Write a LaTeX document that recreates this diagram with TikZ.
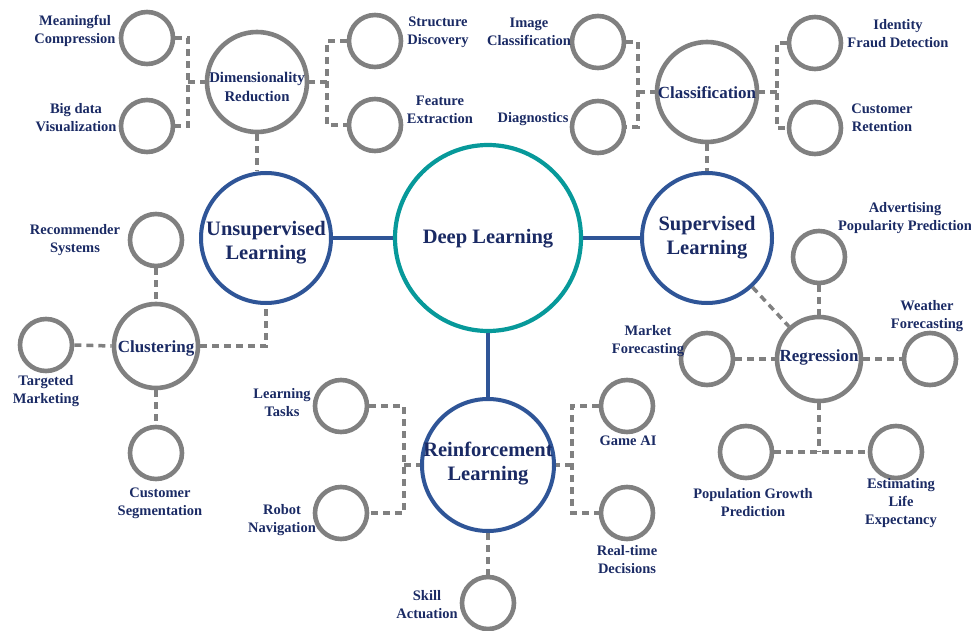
\documentclass[tikz,border=0pt]{standalone}
\usepackage{fontspec}
\setmainfont{Liberation Serif}
\definecolor{tnavy}{HTML}{1A2A64}
\definecolor{cgray}{HTML}{808080}
\definecolor{cblue}{HTML}{2F5597}
\definecolor{cteal}{HTML}{07999A}
\tikzset{
  circ/.style={circle,inner sep=0pt,fill=white},
  leaf/.style={circ,draw=cgray,line width=4.6pt,minimum size=52pt},
  midc/.style={circ,draw=cgray,line width=4.6pt},
  mainc/.style={circ,draw=cblue,line width=4pt,minimum size=128pt},
  rootc/.style={circ,draw=cteal,line width=4.2pt,minimum size=186pt},
  lbl/.style={inner sep=0pt,align=center,text=tnavy,font=\bfseries\fontsize{14.5}{18}\selectfont},
  midlbl/.style={lbl,font=\bfseries\fontsize{17}{19}\selectfont},
  biglbl/.style={lbl,font=\bfseries\fontsize{20.5}{24}\selectfont},
  dl/.style={draw=cgray,line width=3.5pt,dash pattern=on 7pt off 5pt},
  sl/.style={draw=cblue,line width=4pt},
}
\begin{document}
\begin{tikzpicture}[x=1pt,y=-1pt]
\useasboundingbox (0,0) rectangle (971,631);
\coordinate (bDRl) at (188,82);
\coordinate (bDRr) at (327,82);
\coordinate (bCLl) at (638,92);
\coordinate (bCLr) at (777,92);
\coordinate (bRLl) at (404,465);
\coordinate (bRLr) at (572,465);
\coordinate (bREG) at (819,452);
% ---------- circles
\node[rootc] (dl) at (488,238) {};
\node[mainc,minimum size=130pt] (ul) at (266,238) {};
\node[mainc,minimum size=130pt] (sl) at (707,238) {};
\node[mainc,minimum size=132pt] (rl) at (488,465) {};
\node[midc,minimum size=100pt] (dr) at (257,82) {};
\node[midc,minimum size=100pt] (cls) at (707,92) {};
\node[midc,minimum size=84pt] (clu) at (156,346) {};
\node[midc,minimum size=84pt] (reg) at (819,359) {};
% leaves
\node[leaf] (mc) at (147,38) {};
\node[leaf] (bdv) at (147,126) {};
\node[leaf] (sd) at (375,41) {};
\node[leaf] (fe) at (375,125) {};
\node[leaf] (ic) at (598,42) {};
\node[leaf] (dg) at (598,127) {};
\node[leaf] (ifd) at (815,43) {};
\node[leaf] (cr) at (815,128) {};
\node[leaf] (rs) at (156,240) {};
\node[leaf] (tm) at (46,345) {};
\node[leaf] (cs) at (156,453) {};
\node[leaf] (adv) at (819,257) {};
\node[leaf] (mf) at (707,359) {};
\node[leaf] (wf) at (930,359) {};
\node[leaf] (pgp) at (746,452) {};
\node[leaf] (ele) at (896,452) {};
\node[leaf] (lt) at (341,406) {};
\node[leaf] (rn) at (341,513) {};
\node[leaf] (gai) at (627,406) {};
\node[leaf] (rtd) at (627,513) {};
\node[leaf] (sa) at (488,603) {};
% ---------- solid connectors
\draw[sl] (ul.east) -- (dl.west);
\draw[sl] (dl.east) -- (sl.west);
\draw[sl] (dl.south) -- (rl.north);
% ---------- dashed connectors
\draw[dl] (mc.east) -| (bDRl) |- (bdv.east);
\draw[dl] (bDRl) -- (dr.west);
\draw[dl] (sd.west) -| (bDRr) |- (fe.west);
\draw[dl] (bDRr) -- (dr.east);
\draw[dl] (dr.south) -- (dr.south |- ul.north);
\draw[dl] (ic.east) -| (bCLl) |- (dg.east);
\draw[dl] (bCLl) -- (cls.west);
\draw[dl] (ifd.west) -| (bCLr) |- (cr.west);
\draw[dl] (bCLr) -- (cls.east);
\draw[dl] (cls.south) -- (sl.north);
\draw[dl] (rs.south) -- (clu.north);
\draw[dl] (tm.east) -- (clu.west);
\draw[dl] (clu.south) -- (cs.north);
\draw[dl] (clu.east) -| (ul.south);
\draw[dl] (sl) -- (reg);
\draw[dl] (adv.south) -- (reg.north);
\draw[dl] (mf.east) -- (reg.west);
\draw[dl] (reg.east) -- (wf.west);
\draw[dl] (reg.south) -- (bREG);
\draw[dl] (pgp.east) -- (ele.west);
\draw[dl] (lt.east) -| (bRLl) |- (rn.east);
\draw[dl] (bRLl) -- (rl.west);
\draw[dl] (gai.west) -| (bRLr) |- (rtd.west);
\draw[dl] (bRLr) -- (rl.east);
\draw[dl] (rl.south) -- (sa.north);
% ---------- inner labels
\node[biglbl] (tdl) at (488,239) {Deep Learning};
\node[biglbl] (tul) at (266,243) {Unsupervised\\Learning};
\node[biglbl] (tsl) at (707,238) {Supervised\\Learning};
\node[biglbl] (trl) at (488,464) {Reinforcement\\Learning};
\node[lbl,font=\bfseries\fontsize{14.8}{19}\selectfont] (tdr) at (257,87) {Dimensionality\\Reduction};
\node[midlbl] (tcls) at (707,93) {Classification};
\node[midlbl] (tclu) at (156,348) {Clustering};
\node[midlbl] (treg) at (819,357) {Regression};
% ---------- leaf labels
\node[lbl] (tmc) at (75,31) {Meaningful\\Compression};
\node[lbl] (tbdv) at (76,118) {Big data\\Visualization};
\node[lbl] (tsd) at (438,32) {Structure\\Discovery};
\node[lbl] (tfe) at (440,110) {Feature\\Extraction};
\node[lbl] (tic) at (529,32) {Image\\Classification};
\node[lbl] (tdg) at (533,119) {Diagnostics};
\node[lbl] (tifd) at (898,34) {Identity\\Fraud Detection};
\node[lbl] (tcr) at (882,118) {Customer\\Retention};
\node[lbl] (trs) at (75,240) {Recommender\\Systems};
\node[lbl] (ttm) at (46,391) {Targeted\\Marketing};
\node[lbl] (tcs) at (160,503) {Customer\\Segmentation};
\node[lbl] (tlt) at (282,403) {Learning\\Tasks};
\node[lbl] (trn) at (282,520) {Robot\\Navigation};
\node[lbl] (tgai) at (628,441) {Game AI};
\node[lbl] (trtd) at (627,560) {Real-time\\Decisions};
\node[lbl] (tsa) at (427,605) {Skill\\Actuation};
\node[lbl] (tmf) at (648,341) {Market\\Forecasting};
\node[lbl] (tadv) at (905,218) {Advertising\\Popularity Prediction};
\node[lbl] (twf) at (927,316) {Weather\\Forecasting};
\node[lbl] (tpgp) at (753,503) {Population Growth\\Prediction};
\node[lbl] (tele) at (901,503) {Estimating\\Life\\Expectancy};
\end{tikzpicture}
\end{document}
